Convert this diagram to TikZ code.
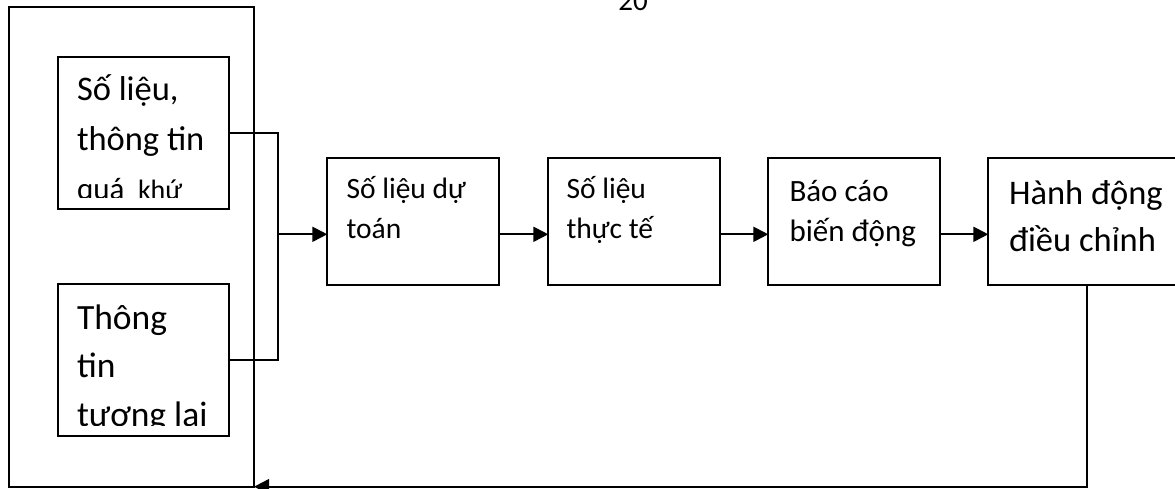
\documentclass[tikz,border=0pt]{standalone}
\usepackage{fontspec}
\setmainfont{Carlito}
\usetikzlibrary{arrows.meta}
\begin{document}
\begin{tikzpicture}[x=1pt,y=-1pt,
  box/.style={draw, line width=2pt, inner sep=0pt, outer sep=0pt, anchor=north west},
  txt/.style={inner sep=0pt, outer sep=0pt, anchor=base west},
  conn/.style={line width=2pt},
  arr/.style={line width=2pt, -{Triangle[length=15pt,width=15pt]}},
  fa/.style={font=\fontsize{34.5pt}{40pt}\selectfont},
  fb/.style={font=\fontsize{35.5pt}{40pt}\selectfont},
  fc/.style={font=\fontsize{29.5pt}{36pt}\selectfont},
  fd/.style={font=\fontsize{31pt}{36pt}\selectfont},
  fe/.style={font=\fontsize{34.5pt}{40pt}\selectfont}]
\useasboundingbox (0,0) rectangle (1175,489);

% page number
\node[inner sep=0pt, anchor=base, font=\fontsize{29pt}{34pt}\selectfont] (pg) at (633,11) {20};

% outer frame
\node[box, minimum width=245pt, minimum height=480pt] (outer) at (9,7) {};

% left inner boxes
\node[box, minimum width=171pt, minimum height=152pt] (b1) at (58,57) {};
\node[box, minimum width=171pt, minimum height=152pt] (b2) at (58,284) {};

% flow boxes
\node[box, minimum width=171.7pt, minimum height=126.7pt] (b3) at (327.3,158.3) {};
\node[box, minimum width=171.7pt, minimum height=126.7pt] (b4) at (548.3,158.3) {};
\node[box, minimum width=171.7pt, minimum height=126.7pt] (b5) at (768.3,158.3) {};
\node[box, minimum width=200pt, minimum height=126.7pt] (b6) at (988.3,158.3) {};

% texts box 1
\node[txt, fa] (t1a) at (77,101) {Số liệu,};
\node[txt, fa] (t1b) at (77,150.5) {thông tin};
\begin{scope}
  \clip (58,57) rectangle (229,197.5);
  \node[txt, font=\fontsize{31pt}{36pt}\selectfont] (t1c) at (77,200) {quá};
  \node[txt, font=\fontsize{28pt}{34pt}\selectfont, anchor=base west] (t1d) at (138,200) {khứ};
\end{scope}

% texts box 2
\node[txt, fb] (t2a) at (77,329.3) {Thông};
\node[txt, fb] (t2b) at (77,377) {tin};
\begin{scope}
  \clip (58,284) rectangle (229,425);
  \node[txt, fb] (t2c) at (77,426.5) {tương lai};
\end{scope}

% texts box 3-6
\node[txt, fc] (t3a) at (346.5,199) {Số liệu dự};
\node[txt, fc] (t3b) at (346.5,238.3) {toán};
\node[txt, fc] (t4a) at (566.5,199) {Số liệu};
\node[txt, fc] (t4b) at (566.5,238.3) {thực tế};
\node[txt, fd] (t5a) at (789.5,201.7) {Báo cáo};
\node[txt, fd] (t5b) at (789.5,241.7) {biến động};
\node[txt, fe] (t6a) at (1009,205) {Hành động};
\node[txt, fe] (t6b) at (1009,251.7) {điều chỉnh};

% connectors
\coordinate (j) at (278,234.3);
\draw[conn] (b1.east) -| (j) |- (b2.east);
\draw[arr] (j) -- (b3.west |- j);
\draw[arr] (b3.east |- j) -- (b4.west |- j);
\draw[arr] (b4.east |- j) -- (b5.west |- j);
\draw[arr] (b5.east |- j) -- (b6.west |- j);
\coordinate (fbk) at (1087,486.7);
\draw[arr] (b6.south -| fbk) -- (fbk) -- (outer.east |- fbk);
\end{tikzpicture}
\end{document}
